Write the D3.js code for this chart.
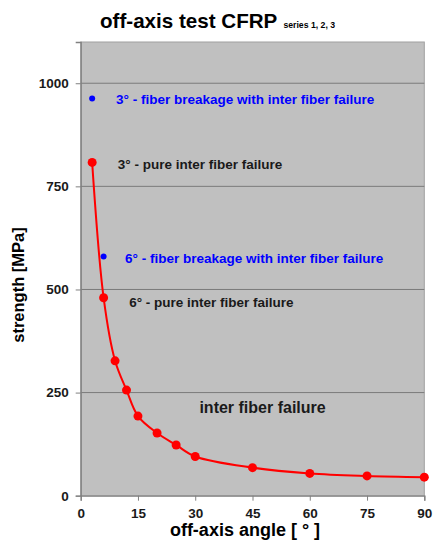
<!DOCTYPE html>
<html>
<head>
<meta charset="utf-8">
<script src="https://cdn.jsdelivr.net/npm/d3@7"></script>
<style>
  body { margin: 0; background: #fff; }
  svg { display: block; font-family: "Liberation Sans", Arial, sans-serif; }
</style>
</head>
<body>
<div id="chart"></div>
<script>
// data
const angles = [3, 6, 9, 12, 15, 20, 25, 30, 45, 60, 75, 90];
const strength = [808, 480, 327, 256, 193, 152, 123, 95, 68, 54, 48, 45];
const fiberAngles = [3, 6];
const fiberStrength = [963, 580];
const xTicks = [0, 15, 30, 45, 60, 75, 90];
const yTicks = [0, 250, 500, 750, 1000];
const notes = [
  { text: "3° - fiber breakage with inter fiber failure", ang: 9.25, val: 950, color: "#0000ff" },
  { text: "3° - pure inter fiber failure", ang: 9.7, val: 792, color: "#1a1a1a" },
  { text: "6° - fiber breakage with inter fiber failure", ang: 11.6, val: 564, color: "#0000ff" },
  { text: "6° - pure inter fiber failure", ang: 12.7, val: 458, color: "#1a1a1a" },
  { text: "inter fiber failure", ang: 31.1, val: 200, color: "#1a1a1a", size: 16 }
];

const width = 433, height = 540;
const margin = { top: 42, right: 8.7, bottom: 44.3, left: 80.7 };
const innerW = width - margin.left - margin.right;
const innerH = height - margin.top - margin.bottom;

const svg = d3.select("#chart").append("svg")
  .attr("width", width).attr("height", height);

const g = svg.append("g").attr("transform", `translate(${margin.left},${margin.top})`);

const x = d3.scaleLinear().domain([0, 90]).range([0, innerW]);
const y = d3.scaleLinear().domain([0, 1100]).range([innerH, 0]);

// plot background
g.append("rect")
  .attr("width", innerW).attr("height", innerH)
  .attr("fill", "#c0c0c0")
  .attr("stroke", "#a0a0a0").attr("stroke-width", 1);

// gridlines
g.selectAll(".grid")
  .data(yTicks.filter(d => d > 0))
  .join("line")
  .attr("x1", 0).attr("x2", innerW)
  .attr("y1", d => y(d)).attr("y2", d => y(d))
  .attr("stroke", "#7a7a7a").attr("stroke-width", 1);

// axes
const yAxis = g.append("g")
  .call(d3.axisLeft(y).tickValues(yTicks).tickFormat(d3.format("d")).tickSize(5).tickPadding(7));
const xAxis = g.append("g")
  .attr("transform", `translate(0,${innerH})`)
  .call(d3.axisBottom(x).tickValues(xTicks).tickSize(5).tickPadding(8));

[xAxis, yAxis].forEach(ax => {
  ax.select(".domain").attr("stroke", "#808080").attr("stroke-width", 1.3);
  ax.selectAll(".tick line").attr("stroke", "#808080");
  ax.selectAll("text")
    .attr("fill", "#1a1a1a")
    .style("font-size", "13.5px")
    .style("font-weight", "bold");
});

// red curve
const pts = angles.map((a, i) => [a, strength[i]]);
const line = d3.line()
  .x(d => x(d[0])).y(d => y(d[1]))
  .curve(d3.curveCatmullRom.alpha(0.5));

g.append("path")
  .datum(pts)
  .attr("d", line)
  .attr("fill", "none")
  .attr("stroke", "#ff0000")
  .attr("stroke-width", 2);

g.selectAll(".pt")
  .data(pts)
  .join("circle")
  .attr("cx", d => x(d[0])).attr("cy", d => y(d[1]))
  .attr("r", 4.5)
  .attr("fill", "#ff0000");

// blue points
g.selectAll(".fb")
  .data(fiberAngles.map((a, i) => [a, fiberStrength[i]]))
  .join("circle")
  .attr("cx", d => x(d[0])).attr("cy", d => y(d[1]))
  .attr("r", 3)
  .attr("fill", "#0000ff");

// annotations
g.selectAll(".note")
  .data(notes)
  .join("text")
  .attr("x", d => x(d.ang)).attr("y", d => y(d.val))
  .attr("fill", d => d.color)
  .style("font-size", d => (d.size || 13.5) + "px")
  .style("font-weight", "bold")
  .text(d => d.text);

// title
const title = svg.append("text")
  .attr("x", 100).attr("y", 28)
  .attr("fill", "#000")
  .style("font-weight", "bold");
title.append("tspan").style("font-size", "20.6px").text("off-axis test CFRP");
title.append("tspan").attr("dx", 6).style("font-size", "8.7px").text("series 1, 2, 3");

// axis titles
svg.append("text")
  .attr("x", 245).attr("y", 536)
  .attr("text-anchor", "middle")
  .style("font-size", "18px").style("font-weight", "bold")
  .attr("fill", "#000")
  .text("off-axis angle [ ° ]");

svg.append("text")
  .attr("transform", "translate(24,285) rotate(-90)")
  .attr("text-anchor", "middle")
  .style("font-size", "16.5px").style("font-weight", "bold")
  .attr("fill", "#000")
  .text("strength [MPa]");
</script>
</body>
</html>
